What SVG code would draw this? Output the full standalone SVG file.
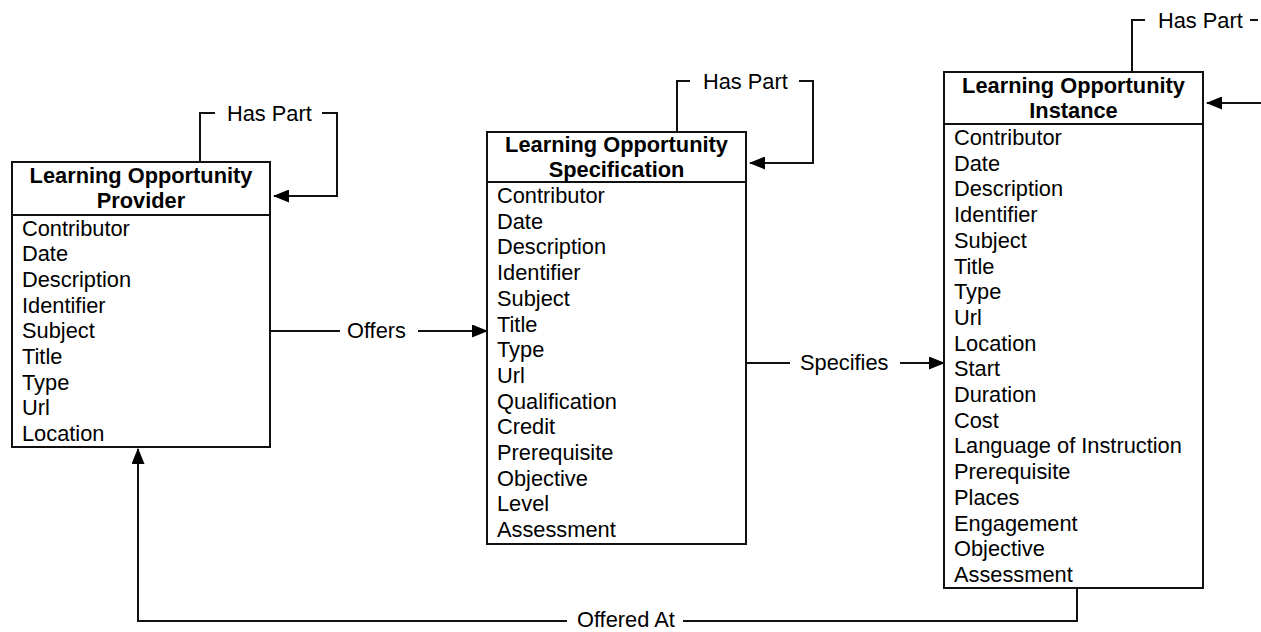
<svg xmlns="http://www.w3.org/2000/svg" width="1261" height="632" viewBox="0 0 1261 632">
<defs>
<marker id="arr" markerUnits="userSpaceOnUse" markerWidth="16" markerHeight="13" refX="15" refY="6.5" orient="auto">
<path d="M0,0 L16,6.5 L0,13 z" fill="#000"/>
</marker>
<style>
.box{fill:#fff;stroke:#111;stroke-width:2}
.div{stroke:#111;stroke-width:2}
.t{font-family:"Liberation Sans",Arial,sans-serif;font-size:21.8px;font-weight:bold;text-anchor:middle;fill:#000}
.a{font-family:"Liberation Sans",Arial,sans-serif;font-size:21.8px;fill:#000}
.l{font-family:"Liberation Sans",Arial,sans-serif;font-size:21.8px;fill:#000}
.c{fill:none;stroke:#111;stroke-width:2}
</style>
</defs>
<rect width="1261" height="632" fill="#fff"/>
<g id="connectors">
<path class="c" d="M200,162 V113 H215"/>
<path class="c" d="M322,113 H337 V196 H274" marker-end="url(#arr)"/>
<text class="l" x="227" y="121">Has Part</text>
<path class="c" d="M677,132 V81 H690"/>
<path class="c" d="M799,81 H813 V163 H750" marker-end="url(#arr)"/>
<text class="l" x="703" y="89">Has Part</text>
<path class="c" d="M1132,72 V20 H1145"/>
<path class="c" d="M1250,20 H1258"/>
<text class="l" x="1158" y="28">Has Part</text>
<path class="c" d="M1261,103 H1207" marker-end="url(#arr)"/>
<path class="c" d="M270,331 H340"/>
<path class="c" d="M418,331 H487" marker-end="url(#arr)"/>
<text class="l" x="347" y="338">Offers</text>
<path class="c" d="M746,363 H790"/>
<path class="c" d="M900,363 H944" marker-end="url(#arr)"/>
<text class="l" x="800" y="370">Specifies</text>
<path class="c" d="M1077,588 V621 H683"/>
<path class="c" d="M567,621 H138 V449" marker-end="url(#arr)"/>
<text class="l" x="577" y="627">Offered At</text>
</g>
<g id="provider">
<rect class="box" x="12" y="162" width="258" height="285"/>
<line class="div" x1="12" y1="215" x2="270" y2="215"/>
<text class="t" x="141" y="183">Learning Opportunity</text>
<text class="t" x="141" y="208">Provider</text>
<text class="a" x="22" y="235.5">Contributor</text>
<text class="a" x="22" y="261.2">Date</text>
<text class="a" x="22" y="286.9">Description</text>
<text class="a" x="22" y="312.6">Identifier</text>
<text class="a" x="22" y="338.3">Subject</text>
<text class="a" x="22" y="364">Title</text>
<text class="a" x="22" y="389.7">Type</text>
<text class="a" x="22" y="415.4">Url</text>
<text class="a" x="22" y="441.1">Location</text>
</g>
<g id="specification">
<rect class="box" x="487" y="132" width="259" height="412"/>
<line class="div" x1="487" y1="182" x2="746" y2="182"/>
<text class="t" x="616.5" y="152">Learning Opportunity</text>
<text class="t" x="616.5" y="177">Specification</text>
<text class="a" x="497" y="203">Contributor</text>
<text class="a" x="497" y="228.7">Date</text>
<text class="a" x="497" y="254.4">Description</text>
<text class="a" x="497" y="280.1">Identifier</text>
<text class="a" x="497" y="305.8">Subject</text>
<text class="a" x="497" y="331.5">Title</text>
<text class="a" x="497" y="357.2">Type</text>
<text class="a" x="497" y="382.9">Url</text>
<text class="a" x="497" y="408.6">Qualification</text>
<text class="a" x="497" y="434.3">Credit</text>
<text class="a" x="497" y="460">Prerequisite</text>
<text class="a" x="497" y="485.7">Objective</text>
<text class="a" x="497" y="511.4">Level</text>
<text class="a" x="497" y="537.1">Assessment</text>
</g>
<g id="instance">
<rect class="box" x="944" y="72" width="259" height="516"/>
<line class="div" x1="944" y1="124" x2="1203" y2="124"/>
<text class="t" x="1073.5" y="93">Learning Opportunity</text>
<text class="t" x="1073.5" y="118">Instance</text>
<text class="a" x="954" y="145">Contributor</text>
<text class="a" x="954" y="170.7">Date</text>
<text class="a" x="954" y="196.4">Description</text>
<text class="a" x="954" y="222.1">Identifier</text>
<text class="a" x="954" y="247.8">Subject</text>
<text class="a" x="954" y="273.5">Title</text>
<text class="a" x="954" y="299.2">Type</text>
<text class="a" x="954" y="324.9">Url</text>
<text class="a" x="954" y="350.6">Location</text>
<text class="a" x="954" y="376.3">Start</text>
<text class="a" x="954" y="402">Duration</text>
<text class="a" x="954" y="427.7">Cost</text>
<text class="a" x="954" y="453.4">Language of Instruction</text>
<text class="a" x="954" y="479.1">Prerequisite</text>
<text class="a" x="954" y="504.8">Places</text>
<text class="a" x="954" y="530.5">Engagement</text>
<text class="a" x="954" y="556.2">Objective</text>
<text class="a" x="954" y="581.9">Assessment</text>
</g>
</svg>
